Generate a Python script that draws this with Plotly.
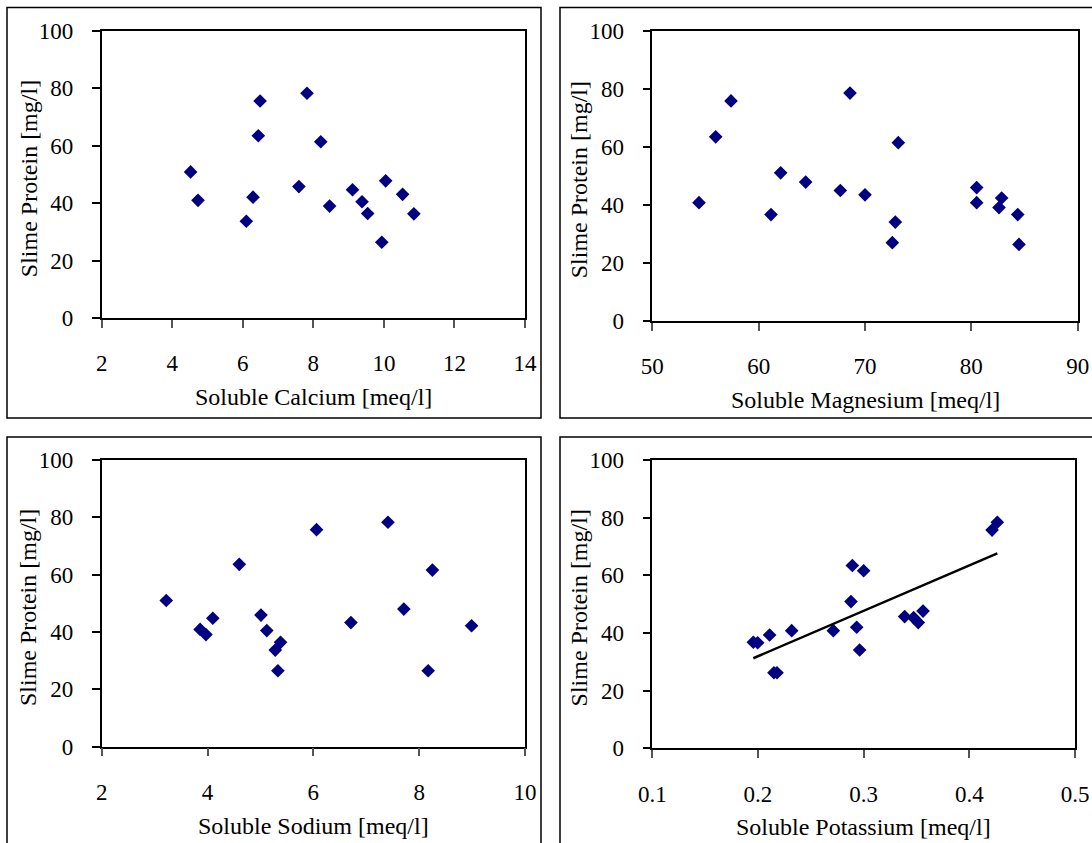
import numpy as np
import plotly.graph_objects as go

# ---- data ----
ca_x = [4.52, 4.73, 6.10, 6.29, 6.44, 6.49, 7.59, 7.82, 8.21, 8.46, 9.11, 9.38, 9.54, 9.94, 10.05, 10.53, 10.85]
ca_y = [50.9, 41.0, 33.7, 42.1, 63.5, 75.6, 45.8, 78.3, 61.4, 39.0, 44.7, 40.5, 36.4, 26.4, 47.8, 43.1, 36.3]

mg_x = [54.39, 55.96, 57.40, 61.16, 62.07, 64.42, 67.68, 68.59, 70.00, 72.57, 72.85, 73.13, 80.50, 80.50, 82.60, 82.85, 84.36, 84.48]
mg_y = [40.8, 63.5, 75.9, 36.7, 51.1, 47.9, 45.0, 78.6, 43.5, 27.0, 34.1, 61.5, 46.0, 40.8, 39.1, 42.4, 36.7, 26.4]

na_x = [3.22, 3.86, 3.97, 4.10, 4.60, 5.01, 5.12, 5.28, 5.38, 5.33, 6.06, 6.71, 7.41, 7.71, 8.17, 8.25, 8.99]
na_y = [51.0, 40.9, 39.1, 44.8, 63.6, 45.9, 40.5, 33.7, 36.4, 26.5, 75.7, 43.3, 78.3, 48.0, 26.5, 61.6, 42.2]

k_x = [0.1956, 0.1997, 0.211, 0.2151, 0.218, 0.2319, 0.2713, 0.288, 0.2893, 0.2934, 0.2962, 0.300, 0.3388, 0.3473, 0.3517, 0.3562, 0.4215, 0.4265]
k_y = [36.8, 36.6, 39.3, 26.2, 26.2, 40.8, 40.8, 50.9, 63.4, 42.0, 34.1, 61.6, 45.7, 45.3, 43.6, 47.6, 75.7, 78.4]

x_titles = ["Soluble Calcium [meq/l]", "Soluble Magnesium [meq/l]",
            "Soluble Sodium [meq/l]", "Soluble Potassium [meq/l]"]
y_title = "Slime Protein [mg/l]"
x_ranges = [(2, 14, 2), (50, 90, 10), (2, 10, 2), (0.1, 0.5, 0.1)]
y_range = (0, 100, 20)

W, H = 1092, 843
FONT = "Liberation Serif"
NAVY = "#000080"

# plot-area pixel boxes (left, right, top, bottom)
boxes = [(101.7, 525, 31, 318), (652.3, 1077.7, 31, 321),
         (101.7, 525, 460, 746.7), (652.3, 1075, 460, 748.3)]
# outer panel frames
frames = [(7, 541, 7.5, 418), (560, 1100, 7.5, 418),
          (7, 541, 437, 850), (560, 1100, 437, 850)]

def px_x(p):
    return p / W

def px_y(p):
    return 1 - p / H

fig = go.Figure()
series = [(ca_x, ca_y), (mg_x, mg_y), (na_x, na_y), (k_x, k_y)]
for i, (xs, ys) in enumerate(series):
    sfx = "" if i == 0 else str(i + 1)
    fig.add_trace(go.Scatter(x=xs, y=ys, mode="markers", xaxis="x" + sfx, yaxis="y" + sfx,
                             marker=dict(symbol="diamond", size=10.5, color=NAVY,
                                         line=dict(width=0)),
                             showlegend=False))

# linear trend for potassium
coef = np.polyfit(k_x, k_y, 1)
tx = np.array([min(k_x), max(k_x)])
fig.add_trace(go.Scatter(x=tx, y=np.polyval(coef, tx), mode="lines", xaxis="x4", yaxis="y4",
                         line=dict(color="black", width=2.5), showlegend=False))

layout = dict(width=W, height=H, margin=dict(l=0, r=0, t=0, b=0, pad=0, autoexpand=False),
              paper_bgcolor="white", plot_bgcolor="white", showlegend=False,
              font=dict(family=FONT, color="black"))

annotations = []
shapes = []
for i, ((l, r, t, b), (x0, x1, dx)) in enumerate(zip(boxes, x_ranges)):
    sfx = "" if i == 0 else str(i + 1)
    tickvals = list(np.round(np.arange(x0, x1 + dx / 2, dx), 4))
    layout["xaxis" + sfx] = dict(
        domain=[px_x(l), px_x(r)], range=[x0, x1], anchor="y" + sfx, automargin=False,
        tickvals=tickvals, ticks="outside", ticklen=8, tickcolor="#555555", tickwidth=1.5,
        showline=True, linecolor="black", linewidth=1.5, mirror=True,
        showgrid=False, zeroline=False, ticklabelstandoff=16,
        tickfont=dict(family=FONT, size=23, color="black"), fixedrange=True)
    layout["yaxis" + sfx] = dict(
        domain=[px_y(b), px_y(t)], range=[y_range[0], y_range[1]], anchor="x" + sfx, automargin=False,
        tickvals=list(range(0, 101, 20)), ticks="outside", ticklen=8, tickcolor="black", tickwidth=1.5,
        showline=True, linecolor="black", linewidth=1.5, mirror=True,
        showgrid=False, zeroline=False, ticklabelstandoff=14,
        tickfont=dict(family=FONT, size=23, color="black"), fixedrange=True)
    # axis titles
    annotations.append(dict(text=x_titles[i], xref="paper", yref="paper",
                            x=px_x((l + r) / 2), y=px_y(b + 79), showarrow=False,
                            xanchor="center", yanchor="middle",
                            font=dict(family=FONT, size=24, color="black")))
    annotations.append(dict(text=y_title, xref="paper", yref="paper",
                            x=px_x(l - 73), y=px_y((t + b) / 2 + 4), showarrow=False,
                            textangle=-90, xanchor="center", yanchor="middle",
                            font=dict(family=FONT, size=24, color="black")))

for (x0, x1, y0, y1) in frames:
    shapes.append(dict(type="rect", xref="paper", yref="paper",
                       x0=px_x(x0), x1=px_x(x1), y0=px_y(y1), y1=px_y(y0),
                       line=dict(color="black", width=1.5), layer="below"))

layout["annotations"] = annotations
layout["shapes"] = shapes
fig.update_layout(**layout)
fig.write_html("out.html")
